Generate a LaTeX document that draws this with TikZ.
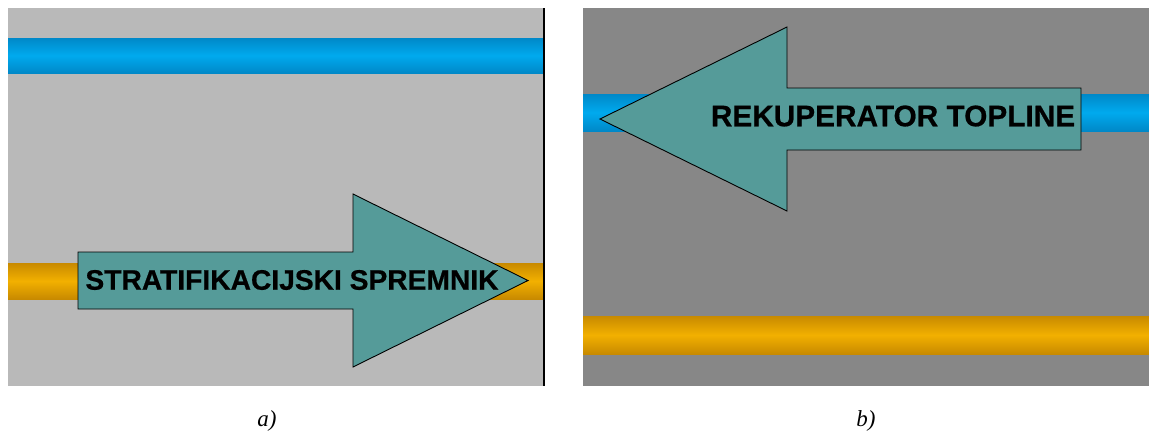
\documentclass[tikz,border=0pt]{standalone}
\usepackage{fontspec}
\setmainfont{Liberation Serif}
\newfontfamily\arialbold{Liberation Sans}[FakeBold=0.6]
\definecolor{bgA}{HTML}{B9B9B9}
\definecolor{bgB}{HTML}{878787}
\definecolor{blueEdge}{HTML}{0088C8}
\definecolor{blueMid}{HTML}{00AAEE}
\definecolor{orEdge}{HTML}{C88A00}
\definecolor{orMid}{HTML}{F2B000}
\definecolor{teal}{HTML}{559B99}
\tikzset{
  bluepipe/.style={top color=blueEdge, bottom color=blueEdge, middle color=blueMid, draw=none},
  orpipe/.style={top color=orEdge, bottom color=orEdge, middle color=orMid, draw=none},
  arrowshape/.style={fill=teal, draw=black, line width=0.9pt, line join=miter},
  arrowtext/.style={text=black, inner sep=0pt},
  caption/.style={font=\itshape\fontsize{23}{23}\selectfont, inner sep=0pt}
}
\begin{document}
\begin{tikzpicture}[x=1pt,y=-1pt]
\useasboundingbox (0,0) rectangle (1149,434);
\fill[white] (0,0) rectangle (1149,434);
% panel a
\fill[bgA] (8,8) rectangle (544,386);
\fill[bluepipe] (8,38) rectangle (544,73);
\fill[orpipe] (8,263) rectangle (544,299);
\draw[black, line width=1.6pt] (544,8) -- (544,386);
\draw[arrowshape] (78,252) -- (353,252) -- (353,194) -- (528,280.5) -- (353,367) -- (353,309) -- (78,309) -- cycle;
\node[arrowtext, font=\arialbold\bfseries\fontsize{28.2}{28.2}\selectfont] (ta) at (292,280) {STRATIFIKACIJSKI SPREMNIK};
\node[caption] (ca) at (267,421) {a)};
% panel b
\fill[bgB] (583,8) rectangle (1149,386);
\fill[bluepipe] (583,94) rectangle (1149,131);
\fill[orpipe] (583,316) rectangle (1149,354);
\draw[arrowshape] (1081,88) -- (787,88) -- (787,27) -- (600,119) -- (787,211) -- (787,150) -- (1081,150) -- cycle;
\node[arrowtext, font=\arialbold\bfseries\fontsize{29.8}{29.8}\selectfont] (tb) at (893,116) {REKUPERATOR TOPLINE};
\node[caption] (cb) at (866,421) {b)};
\end{tikzpicture}
\end{document}
